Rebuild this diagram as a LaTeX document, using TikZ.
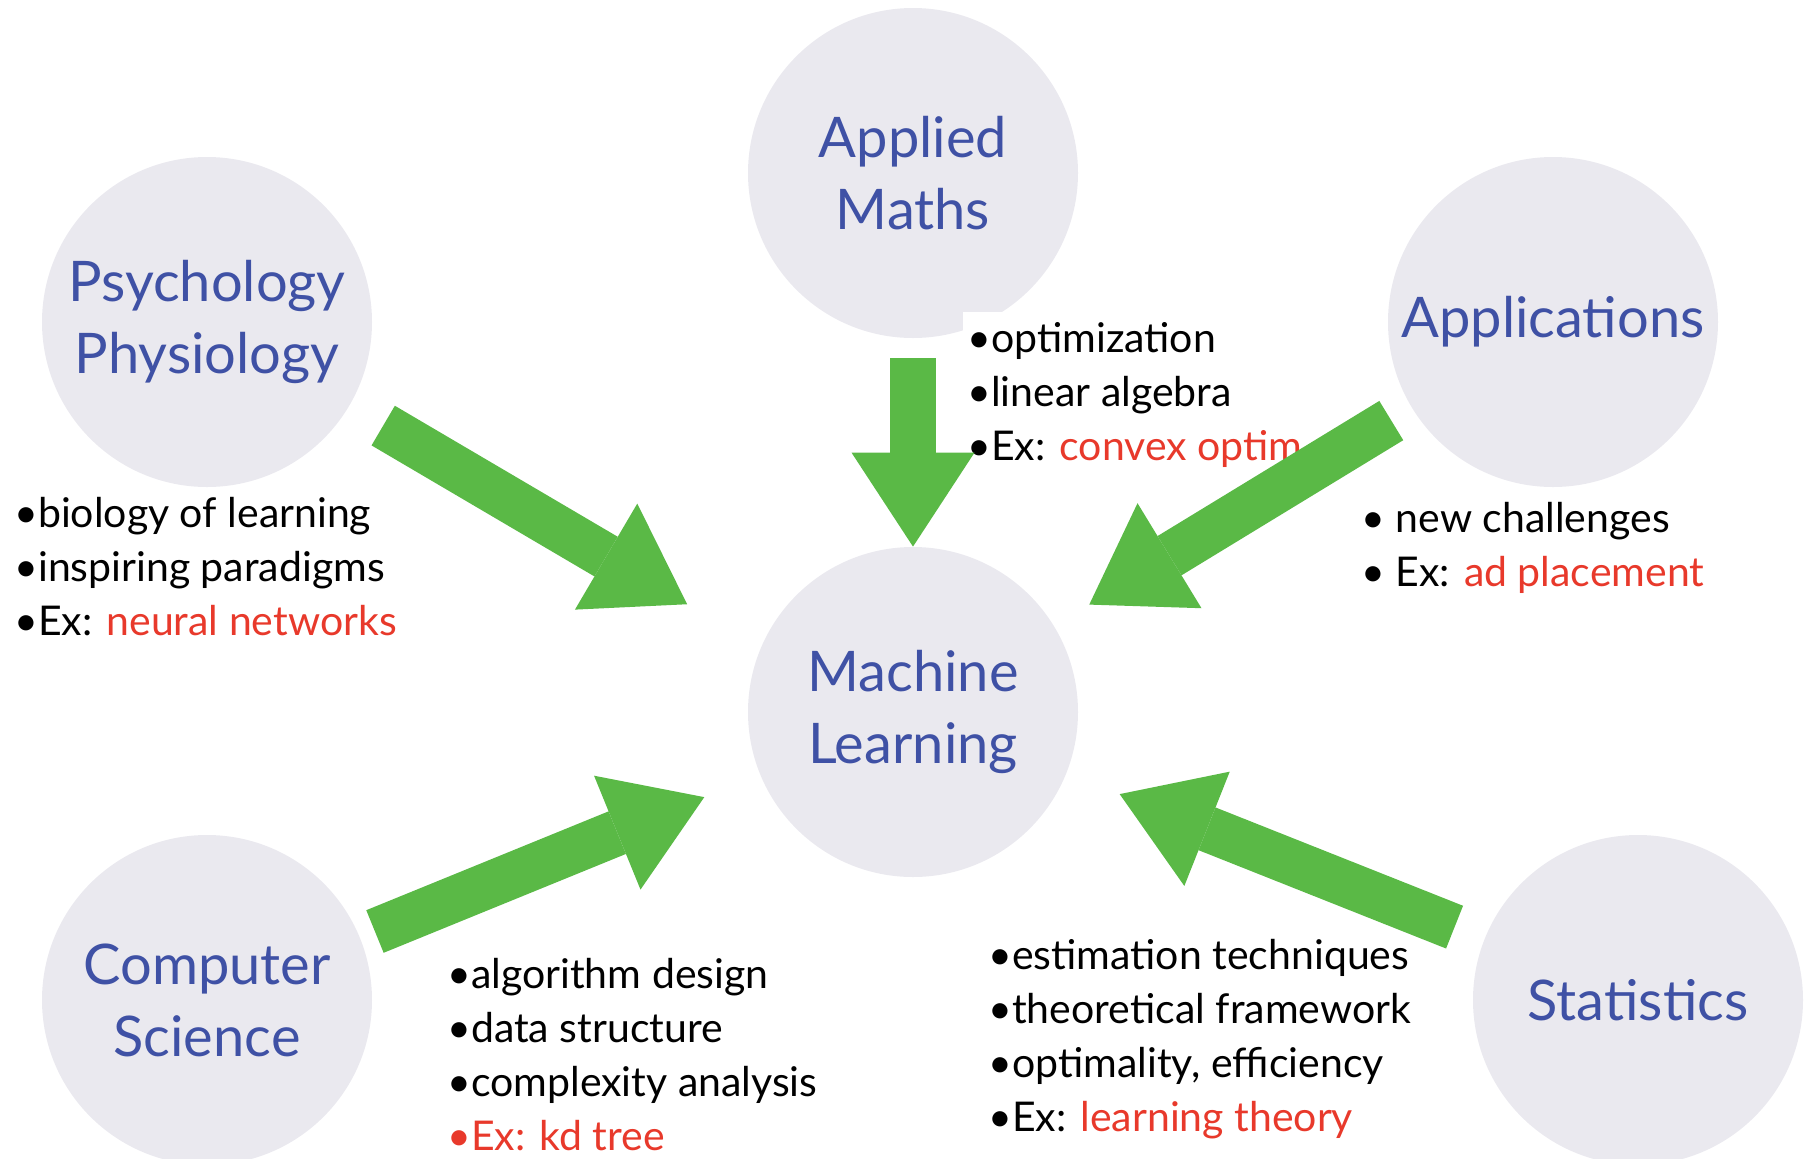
\documentclass[tikz,border=0pt]{standalone}
\usepackage{fontspec}
\setmainfont{Lato}
\usetikzlibrary{arrows.meta}
\definecolor{circgray}{HTML}{EAE9EF}
\definecolor{topicblue}{HTML}{3F51A5}
\definecolor{exred}{HTML}{E8392B}
\definecolor{arrowgreen}{HTML}{5AB946}

\begin{document}
\begin{tikzpicture}[
      x=0.5pt, y=-0.5pt,
      topic/.style={circle,fill=circgray,minimum size=165pt,inner sep=0pt,align=center,
        text=topicblue,font=\fontsize{28}{36}\selectfont},
      bullets/.style={anchor=north west,align=left,inner sep=0pt,font=\fontsize{20.5}{27}\selectfont},
      bigarrow/.style={draw=arrowgreen,line width=23pt,
        -{Triangle[width=61.5pt,length=47pt,line width=0pt]}}
      ]
      \useasboundingbox (0,0) rectangle (1806,1158);

      \node[topic] (ml) at (913,712) {Machine\\Learning};
      \node[topic] (maths) at (913,173) {Applied\\Maths};
      \node[topic] (psy) at (207,322) {Psychology\\Physiology};
      \node[topic] (apps) at (1553,322) {Applications};
      \node[topic] (cs) at (207,1000) {Computer\\Science};
      \node[topic] (stats) at (1638,1000) {Statistics};

      \node[bullets] (psylist) at (14,497) {%
        •biology of learning\\•inspiring paradigms\\•Ex: \textcolor{exred}{neural networks}};
      \node[bullets, fill=white, inner xsep=2pt, inner ysep=5pt] (mathslist) at (963,312) {%
        •optimization\\•linear algebra\\•Ex: \textcolor{exred}{convex optim}};
      \node[bullets] (appslist) at (1361,502) {%
        • new challenges\\• Ex: \textcolor{exred}{ad placement}};
      \node[bullets] (cslist) at (447,958) {%
        •algorithm design\\•data structure\\•complexity analysis\\\textcolor{exred}{•Ex: kd tree}};
      \node[bullets] (statslist) at (988,939) {%
        •estimation techniques\\•theoretical framework\\•optimality, efficiency\\•Ex: \textcolor{exred}{learning theory}};

      \draw[bigarrow, shorten <=10pt, shorten >=0pt] (maths) -- (ml);
      \draw[bigarrow, shorten <=19.5pt, shorten >=131pt] (psy) -- ([yshift=-12.5pt]ml.center);
      \draw[bigarrow, shorten <=12pt, shorten >=20.5pt] (apps) -- (ml);
      \draw[bigarrow, shorten <=8pt, shorten >=30pt] (cs) -- (ml);
      \draw[bigarrow, shorten <=16pt, shorten >=28.5pt] (stats) -- (ml);

    \end{tikzpicture}
\end{document}
